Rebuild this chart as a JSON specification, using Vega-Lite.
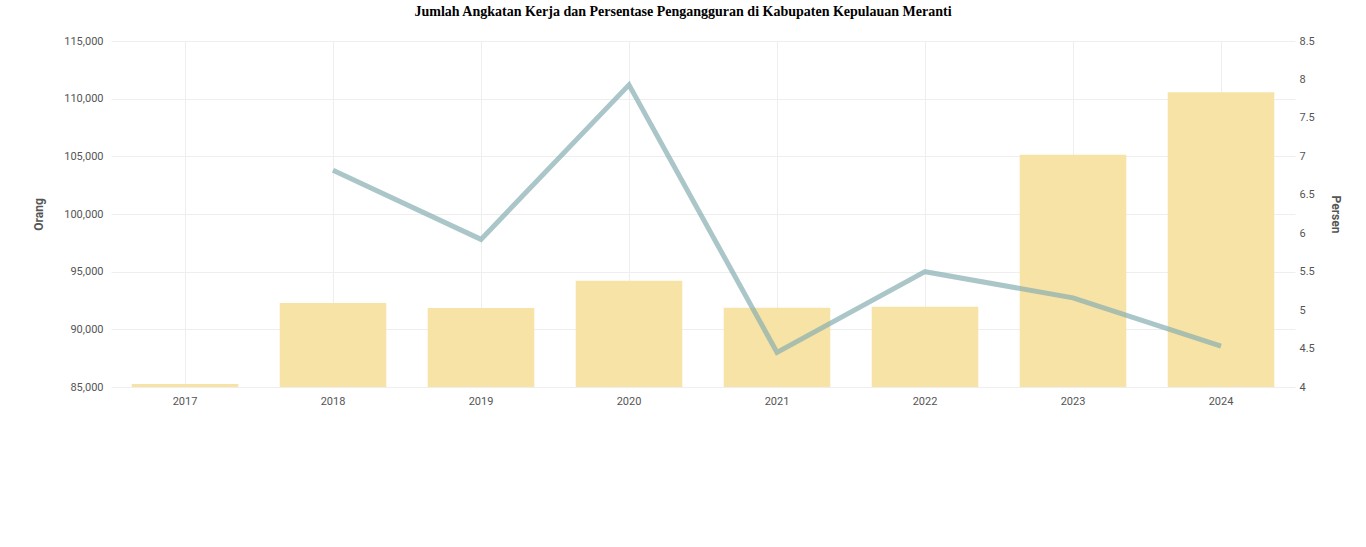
{
  "$schema": "https://vega.github.io/schema/vega-lite/v6.json",
  "width": 1184,
  "height": 346,
  "autosize": {"type": "none"},
  "padding": {"left": 111, "top": 41, "right": 71, "bottom": 160},
  "background": "white",
  "title": {
    "text": "Jumlah Angkatan Kerja dan Persentase Pengangguran di Kabupaten Kepulauan Meranti",
    "font": "Liberation Serif",
    "fontSize": 14,
    "fontWeight": "bold",
    "color": "#000000",
    "anchor": "middle",
    "dx": -20,
    "offset": 16
  },
  "config": {
    "view": {"stroke": null},
    "axis": {
      "labelFont": "Roboto",
      "labelFontSize": 11,
      "labelColor": "#555555",
      "titleFont": "Roboto",
      "titleFontSize": 12,
      "titleColor": "#555555",
      "titleFontWeight": "bold",
      "gridColor": "#eeeeee",
      "domain": false,
      "ticks": false
    }
  },
  "data": {
    "values": [
      {"tahun": "2017", "angkatan_kerja": 85250, "pengangguran": null},
      {"tahun": "2018", "angkatan_kerja": 92290, "pengangguran": 6.82},
      {"tahun": "2019", "angkatan_kerja": 91860, "pengangguran": 5.92},
      {"tahun": "2020", "angkatan_kerja": 94220, "pengangguran": 7.93},
      {"tahun": "2021", "angkatan_kerja": 91880, "pengangguran": 4.45},
      {"tahun": "2022", "angkatan_kerja": 91950, "pengangguran": 5.5},
      {"tahun": "2023", "angkatan_kerja": 105130, "pengangguran": 5.16},
      {"tahun": "2024", "angkatan_kerja": 110560, "pengangguran": 4.53}
    ]
  },
  "encoding": {
    "x": {
      "field": "tahun",
      "type": "ordinal",
      "scale": {"paddingInner": 0.28, "paddingOuter": 0.14},
      "axis": {"title": null, "labelAngle": 0, "grid": true, "labelPadding": 8}
    }
  },
  "layer": [
    {
      "mark": {"type": "bar", "color": "#f7e3a5"},
      "encoding": {
        "y": {
          "field": "angkatan_kerja",
          "type": "quantitative",
          "scale": {"domain": [85000, 115000], "zero": false},
          "axis": {
            "title": "Orang",
            "values": [85000, 90000, 95000, 100000, 105000, 110000, 115000],
            "format": ",d",
            "labelPadding": 8,
            "titlePadding": 18
          }
        },
        "y2": {"datum": 85000}
      }
    },
    {
      "mark": {"type": "line", "color": "#87aeb0", "strokeWidth": 5, "opacity": 0.7},
      "encoding": {
        "y": {
          "field": "pengangguran",
          "type": "quantitative",
          "scale": {"domain": [4, 8.5], "zero": false},
          "axis": {
            "orient": "right",
            "title": "Persen",
            "grid": false,
            "values": [4, 4.5, 5, 5.5, 6, 6.5, 7, 7.5, 8, 8.5],
            "format": "~g",
            "labelPadding": 4,
            "titlePadding": 14
          }
        }
      }
    }
  ],
  "resolve": {"scale": {"y": "independent"}}
}
